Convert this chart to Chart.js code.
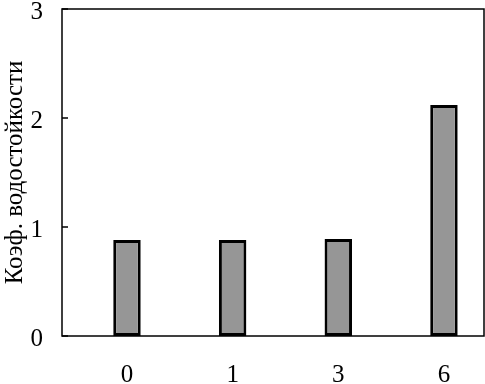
<!DOCTYPE html>
<html><head><meta charset="utf-8">
<script src="https://cdn.jsdelivr.net/npm/chart.js@4/dist/chart.umd.min.js"></script>
<style>html,body{margin:0;padding:0;background:#fff;}#wrap{width:485px;height:384px;}</style>
</head><body><div id="wrap"><canvas id="c" width="485" height="384"></canvas></div>
<script>
const categories = ['0', '1', '3', '6'];
const values = [0.88, 0.88, 0.89, 2.12];
const yTicks = [0, 1, 2, 3];
const yTitle = 'Коэф. водостойкости';

const FONT = "Liberation Serif";

const framePlugin = {
  id: 'frame',
  afterDraw(chart) {
    const {ctx, chartArea: a, scales} = chart;
    ctx.save();
    ctx.strokeStyle = '#000';
    ctx.lineWidth = 1.5;
    ctx.strokeRect(a.left, a.top, a.right - a.left, a.bottom - a.top);
    ctx.beginPath();
    yTicks.forEach(v => {
      const y = scales.y.getPixelForValue(v);
      ctx.moveTo(a.left, y);
      ctx.lineTo(a.left + 6, y);
    });
    ctx.stroke();
    ctx.restore();
  }
};

function draw() {
  new Chart(document.getElementById('c'), {
    type: 'bar',
    data: {
      datasets: [{
        data: values.map((v, i) => ({x: i, y: v})),
        backgroundColor: '#969696',
        borderColor: '#000',
        borderWidth: 3,
        borderSkipped: false,
        barPercentage: 0.26,
        categoryPercentage: 1.0
      }]
    },
    options: {
      responsive: false,
      animation: false,
      devicePixelRatio: 1,
      layout: {padding: {left: 0, top: 9, right: 1, bottom: 0}},
      plugins: {legend: {display: false}, tooltip: {enabled: false}},
      scales: {
        x: {
          type: 'linear',
          min: -0.615, max: 3.379,
          offset: false,
          afterBuildTicks(s) { s.ticks = categories.map((c, i) => ({value: i})); },
          grid: {display: false},
          border: {display: false},
          ticks: {color: '#000', font: {family: FONT, size: 25}, padding: 16, maxRotation: 0,
                  callback: (v) => categories[v]},
          afterFit(s) { s.height = 48; s.paddingLeft = 0; s.paddingRight = 0; }
        },
        y: {
          min: 0, max: 3,
          afterBuildTicks(s) { s.ticks = yTicks.map(v => ({value: v})); },
          grid: {display: false},
          border: {display: false},
          ticks: {color: '#000', font: {family: FONT, size: 25}, padding: 11, labelOffset: 3},
          title: {display: true, text: yTitle, color: '#000', font: {family: FONT, size: 25}, padding: 0},
          afterFit(s) { s.width = 62; s.paddingTop = 0; s.paddingBottom = 0; }
        }
      }
    },
    plugins: [framePlugin]
  });
}

const fl = document.fonts && document.fonts.load ? document.fonts.load('25px "Liberation Serif"') : Promise.resolve();
fl.then(draw, draw);
</script></body></html>
